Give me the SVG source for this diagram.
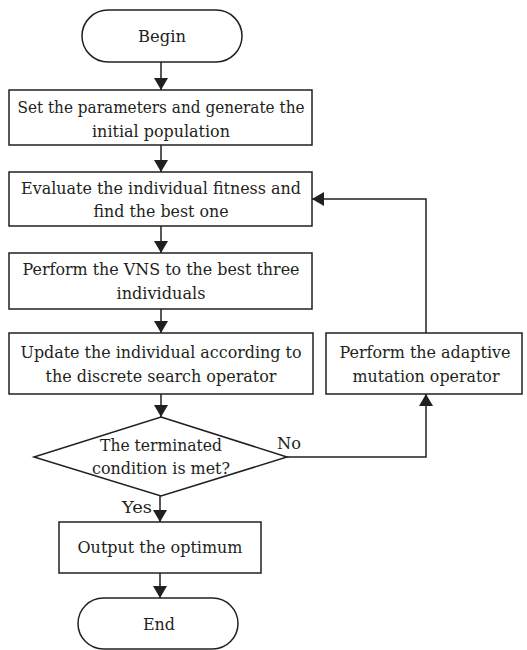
<svg xmlns="http://www.w3.org/2000/svg" width="527" height="650" viewBox="0 0 527 650">
<style>
.s{fill:#fff;stroke:#231f20;stroke-width:1.5}
.t{font-family:'DejaVu Serif','Liberation Serif',serif;font-size:17px;fill:#231f20;text-anchor:middle}
.l{font-family:'DejaVu Serif','Liberation Serif',serif;font-size:17px;fill:#231f20}
.c{fill:none;stroke:#231f20;stroke-width:1.5}
</style>
<defs>
<marker id="a" markerWidth="12" markerHeight="14" refX="12" refY="7" orient="auto" markerUnits="userSpaceOnUse">
<path d="M0,0 L12,7 L0,14 Z" fill="#231f20"/>
</marker>
</defs>
<g id="begin"><rect class="s" x="82" y="10" width="160" height="52" rx="26"/><text class="t" x="162" y="42" textLength="48" lengthAdjust="spacingAndGlyphs">Begin</text></g>
<g id="init"><rect class="s" x="9" y="90" width="303" height="55"/><text class="t" x="161" y="113" textLength="287" lengthAdjust="spacingAndGlyphs">Set the parameters and generate the</text><text class="t" x="161" y="137" textLength="138" lengthAdjust="spacingAndGlyphs">initial population</text></g>
<g id="eval"><rect class="s" x="9" y="172" width="303" height="54"/><text class="t" x="161" y="194" textLength="280" lengthAdjust="spacingAndGlyphs">Evaluate the individual fitness and</text><text class="t" x="161" y="217" textLength="135" lengthAdjust="spacingAndGlyphs">find the best one</text></g>
<g id="vns"><rect class="s" x="9" y="253" width="303" height="56"/><text class="t" x="161" y="275" textLength="277" lengthAdjust="spacingAndGlyphs">Perform the VNS to the best three</text><text class="t" x="161" y="299" textLength="89" lengthAdjust="spacingAndGlyphs">individuals</text></g>
<g id="update"><rect class="s" x="9" y="333" width="304" height="61"/><text class="t" x="161" y="358" textLength="281" lengthAdjust="spacingAndGlyphs">Update the individual according to</text><text class="t" x="161" y="382" textLength="231" lengthAdjust="spacingAndGlyphs">the discrete search operator</text></g>
<g id="mutation"><rect class="s" x="326" y="333" width="196" height="61"/><text class="t" x="425" y="358" textLength="171" lengthAdjust="spacingAndGlyphs">Perform the adaptive</text><text class="t" x="426" y="382" textLength="147" lengthAdjust="spacingAndGlyphs">mutation operator</text></g>
<g id="cond"><polygon class="s" points="161,417 287,457 161,496 34,457"/><text class="t" x="161" y="451" textLength="122" lengthAdjust="spacingAndGlyphs">The terminated</text><text class="t" x="161" y="474" textLength="138" lengthAdjust="spacingAndGlyphs">condition is met?</text></g>
<g id="output"><rect class="s" x="59" y="522" width="202" height="51"/><text class="t" x="160" y="553" textLength="165" lengthAdjust="spacingAndGlyphs">Output the optimum</text></g>
<g id="end"><rect class="s" x="78" y="598" width="160" height="51" rx="25.5"/><text class="t" x="159" y="630" textLength="32" lengthAdjust="spacingAndGlyphs">End</text></g>
<g id="connectors">
<line class="c" x1="161" y1="62" x2="161" y2="90" marker-end="url(#a)"/>
<line class="c" x1="161" y1="145" x2="161" y2="172" marker-end="url(#a)"/>
<line class="c" x1="161" y1="226" x2="161" y2="253" marker-end="url(#a)"/>
<line class="c" x1="161" y1="309" x2="161" y2="333" marker-end="url(#a)"/>
<line class="c" x1="161" y1="394" x2="161" y2="417" marker-end="url(#a)"/>
<polyline class="c" points="287,457 426,457 426,394" marker-end="url(#a)"/>
<polyline class="c" points="426,333 426,199 312,199" marker-end="url(#a)"/>
<line class="c" x1="160" y1="496" x2="160" y2="522" marker-end="url(#a)"/>
<line class="c" x1="160" y1="573" x2="160" y2="598" marker-end="url(#a)"/>
<text class="l" x="122" y="513" textLength="30" lengthAdjust="spacingAndGlyphs">Yes</text>
<text class="l" x="277" y="449" textLength="24" lengthAdjust="spacingAndGlyphs">No</text>
</g>
</svg>
